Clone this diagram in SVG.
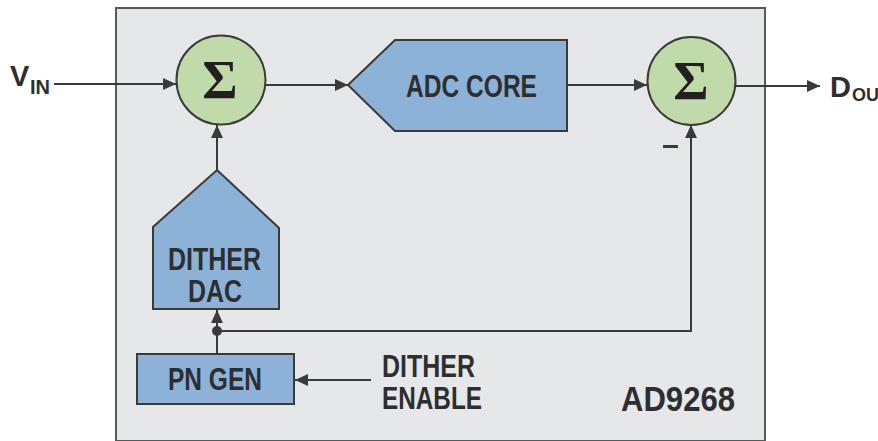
<svg xmlns="http://www.w3.org/2000/svg" width="878" height="441" viewBox="0 0 878 441">
  <defs>
    <style>
      .box { fill: #e6e7e8; stroke: #58595b; stroke-width: 2; }
      .blk { fill: #8db2d8; stroke: #3a3a3c; stroke-width: 2; stroke-linejoin: miter; }
      .sum { fill: #c0dba9; stroke: #3a3a3c; stroke-width: 2; }
      .ln { fill: none; stroke: #3a3a3c; stroke-width: 2; }
      .lbl { font-family: "Liberation Sans Narrow", "Liberation Sans", Arial, sans-serif; font-weight: bold; fill: #2e2e30; }
      .sig { font-family: "Liberation Serif", "Times New Roman", serif; font-size: 54px; font-weight: bold; fill: #231f20; text-anchor: middle; }
    </style>
    <marker id="ah" viewBox="0 0 12 11" refX="12" refY="5.5" markerWidth="6.5" markerHeight="6" markerUnits="strokeWidth" orient="auto">
      <path d="M0,0 L12,5.5 L0,11 z" fill="#3a3a3c"/>
    </marker>
  </defs>

  <rect id="chip" class="box" x="116" y="8" width="649" height="433"/>

  <g id="connectors">
    <line class="ln" x1="54" y1="84" x2="176" y2="84" marker-end="url(#ah)"/>
    <line class="ln" x1="265" y1="85" x2="348" y2="85" marker-end="url(#ah)"/>
    <line class="ln" x1="567" y1="85" x2="647" y2="85" marker-end="url(#ah)"/>
    <line class="ln" x1="736" y1="86" x2="820" y2="86" marker-end="url(#ah)"/>
    <line class="ln" x1="217" y1="170" x2="217" y2="125" marker-end="url(#ah)"/>
    <line class="ln" x1="217" y1="354" x2="217" y2="310" marker-end="url(#ah)"/>
    <polyline class="ln" points="217,331 691,331 691,125" marker-end="url(#ah)"/>
    <circle cx="217" cy="331" r="5" fill="#3a3a3c"/>
    <line class="ln" x1="371" y1="380" x2="295" y2="380" marker-end="url(#ah)"/>
    <rect x="663" y="145" width="15" height="3" fill="#3a3a3c"/>
  </g>

  <g id="sum1">
    <circle class="sum" cx="221" cy="80" r="44.5"/>
    <text class="sig" x="220" y="98">Σ</text>
  </g>

  <g id="adc-core">
    <polygon class="blk" points="348,85 395,40 567,40 567,131 395,131"/>
    <text class="lbl" x="406" y="97" font-size="31" textLength="131" lengthAdjust="spacingAndGlyphs">ADC CORE</text>
  </g>

  <g id="sum2">
    <circle class="sum" cx="691.5" cy="81" r="44"/>
    <text class="sig" x="691" y="99">Σ</text>
  </g>

  <g id="dither-dac">
    <polygon class="blk" points="217,170 279,228 279,309 153,309 153,227"/>
    <text class="lbl" x="168" y="270" font-size="31" textLength="93" lengthAdjust="spacingAndGlyphs">DITHER</text>
    <text class="lbl" x="188" y="302" font-size="31" textLength="54" lengthAdjust="spacingAndGlyphs">DAC</text>
  </g>

  <g id="pn-gen">
    <rect class="blk" x="137" y="354" width="157" height="50"/>
    <text class="lbl" x="168" y="390" font-size="31" textLength="94" lengthAdjust="spacingAndGlyphs">PN GEN</text>
  </g>

  <g id="vin">
    <text class="lbl" x="10" y="86" font-size="29">V<tspan x="30" y="94" font-size="20">IN</tspan></text>
  </g>

  <g id="dout">
    <text class="lbl" x="830" y="97" font-size="29">D<tspan x="852" y="101" font-size="18">OU</tspan></text>
  </g>

  <g id="dither-enable">
    <text class="lbl" x="382" y="377" font-size="31" textLength="93" lengthAdjust="spacingAndGlyphs">DITHER</text>
    <text class="lbl" x="382" y="409" font-size="31" textLength="100" lengthAdjust="spacingAndGlyphs">ENABLE</text>
  </g>

  <g id="part">
    <text class="lbl" x="621" y="411" font-size="35" textLength="114" lengthAdjust="spacingAndGlyphs">AD9268</text>
  </g>
</svg>
